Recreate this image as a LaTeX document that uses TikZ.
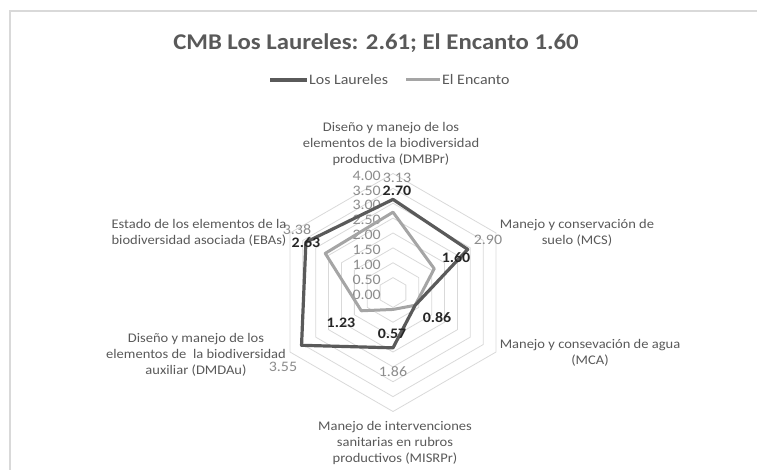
\documentclass[tikz,border=0pt]{standalone}
\usepackage{fontspec}
\setmainfont{Carlito}[FakeStretch=1.1]
\usetikzlibrary{calc}
\definecolor{darkser}{HTML}{5A5A5A}
\definecolor{lightser}{HTML}{A5A5A5}
\definecolor{gridcol}{HTML}{D9D9D9}
\definecolor{framecol}{HTML}{D9D9D9}
\definecolor{txtcol}{HTML}{595959}
\definecolor{tickcol}{HTML}{8C8C8C}
\definecolor{boldcol}{HTML}{262626}
\tikzset{
  gridline/.style={draw=gridcol, line width=0.8pt},
  darkline/.style={draw=darkser, line width=3.2pt, line join=round},
  lightline/.style={draw=lightser, line width=3pt, line join=round},
  catlabel/.style={text=txtcol, align=center, font=\fontsize{13.2}{16}\selectfont, inner sep=0pt},
  ticklabel/.style={text=tickcol, anchor=east, font=\fontsize{14.5}{14}\selectfont, inner sep=0pt},
  graylabel/.style={text=tickcol, font=\fontsize{14.5}{14}\selectfont, inner sep=0pt},
  boldlabel/.style={text=boldcol, font=\bfseries\fontsize{14.5}{14}\selectfont, inner sep=0pt},
  legtext/.style={text=txtcol, anchor=west, font=\fontsize{14.5}{14}\selectfont, inner sep=0pt}
}
\begin{document}
\begin{tikzpicture}[x=1pt,y=1pt]
\useasboundingbox (0,0) rectangle (757,470);
% frame
\coordinate (frBL) at (10,0);
\coordinate (frTL) at (10,459);
\coordinate (frTR) at (757,459);
\draw[draw=framecol, line width=1.5pt] (frBL) -- (frTL) -- (frTR);
% title
\node[text=txtcol, font=\bfseries\fontsize{22.5}{24}\selectfont, inner sep=0pt] (title) at (376,427) {CMB Los Laureles: 2.61; El Encanto 1.60};
% legend
\coordinate (lg1a) at (270,390);
\coordinate (lg1b) at (307,390);
\coordinate (lg2a) at (406,390);
\coordinate (lg2b) at (440,390);
\draw[darkline] (lg1a) -- (lg1b);
\draw[lightline] (lg2a) -- (lg2b);
\node[legtext] (leg1) at (309,390) {Los Laureles};
\node[legtext] (leg2) at (442,390) {El Encanto};
\begin{scope}[shift={(393,177.5)}]
  % grid
  \foreach \k in {1,...,8} {
    \pgfmathsetmacro{\r}{\k*14.875}
    \draw[gridline] (90:\r) -- (30:\r) -- (-30:\r) -- (-90:\r) -- (-150:\r) -- (150:\r) -- cycle;
  }
  % tick labels
  \foreach \k/\t in {0/0.00,1/0.50,2/1.00,3/1.50,4/2.00,5/2.50,6/3.00,7/3.50,8/4.00} {
    \node[ticklabel] (tick\k) at (-12,{\k*14.875-2}) {\t};
  }
  % data points
  \coordinate (L1) at (90:{3.13*29.75});
  \coordinate (L2) at (30:{2.90*29.75});
  \coordinate (L3) at (-30:{0.86*29.75});
  \coordinate (L4) at (-90:{1.86*29.75});
  \coordinate (L5) at (-150:{3.55*29.75});
  \coordinate (L6) at (150:{3.38*29.75});
  \coordinate (E1) at (90:{2.70*29.75});
  \coordinate (E2) at (30:{1.60*29.75});
  \coordinate (E3) at (-30:{0.86*29.75});
  \coordinate (E4) at (-90:{0.57*29.75});
  \coordinate (E5) at (-150:{1.23*29.75});
  \coordinate (E6) at (150:{2.63*29.75});
\end{scope}
\draw[lightline] (E1) -- (E2) -- (E3) -- (E4) -- (E5) -- (E6) -- cycle;
\draw[darkline] (L1) -- (L2) -- (L3) -- (L4) -- (L5) -- (L6) -- cycle;
% data labels
\node[graylabel] (v313) at (397,292) {3.13};
\node[boldlabel] (v270) at (397,279) {2.70};
\node[graylabel] (v290) at (488,230) {2.90};
\node[boldlabel] (v160) at (456,212) {1.60};
\node[boldlabel] (v086) at (437,152) {0.86};
\node[boldlabel] (v057) at (392,136) {0.57};
\node[graylabel] (v186) at (393,98) {1.86};
\node[boldlabel] (v123) at (341,147) {1.23};
\node[graylabel] (v355) at (283,103) {3.55};
\node[graylabel] (v338) at (297,240) {3.38};
\node[boldlabel] (v263) at (306,227) {2.63};
% category labels
\node[catlabel] (catA) at (391,326) {Diseño y manejo de los\\elementos de la biodiversidad\\productiva (DMBPr)};
\node[catlabel] (catB) at (577,237) {Manejo y conservación de\\suelo (MCS)};
\node[catlabel] (catC) at (590,117) {Manejo y consevación de agua\\(MCA)};
\node[catlabel] (catD) at (395,27) {Manejo de intervenciones\\sanitarias en rubros\\productivos (MISRPr)};
\node[catlabel] (catE) at (196,115) {Diseño y manejo de los\\elementos de~ la biodiversidad\\auxiliar (DMDAu)};
\node[catlabel, align=left] (catF) at (199,237) {Estado de los elementos de la\\biodiversidad asociada (EBAs)};
\end{tikzpicture}
\end{document}
